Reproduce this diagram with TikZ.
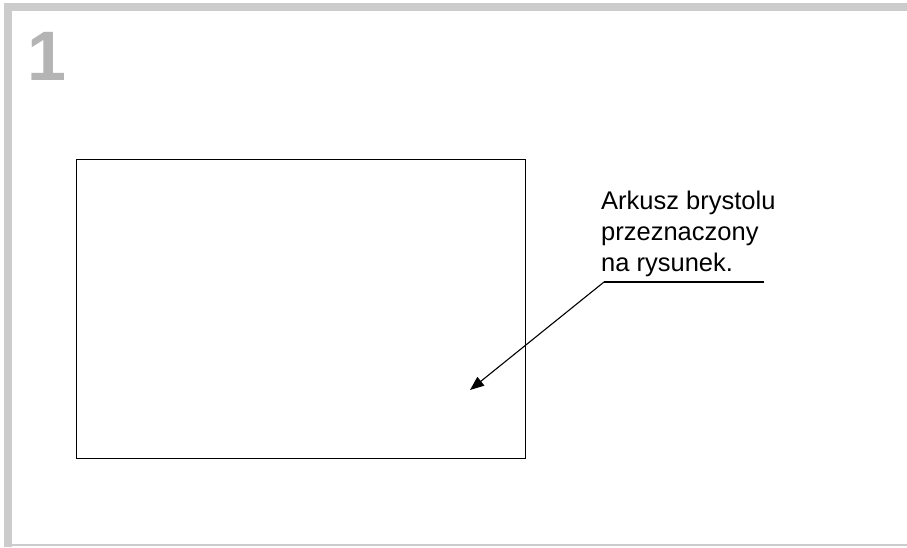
\documentclass[tikz,border=0pt]{standalone}
\usepackage{fontspec}
\setmainfont{Liberation Sans}
\usetikzlibrary{arrows.meta}
\definecolor{framegray}{HTML}{CCCCCC}
\definecolor{numgray}{HTML}{B4B4B4}
\begin{document}
\begin{tikzpicture}[x=1pt,y=-1pt,
  framebar/.style={fill=framegray,draw=none},
  sheet/.style={draw=black,line width=1pt},
  leader/.style={draw=black,line width=1.1pt},
  lbl/.style={font=\fontsize{25.5}{31}\selectfont,align=left,anchor=north west,inner sep=0pt}]
\useasboundingbox (0,0) rectangle (907,547);
\fill[white] (0,0) rectangle (907,547);
\fill[framebar] (4,3) rectangle (907,11);
\fill[framebar] (4,3) rectangle (12,547);
\fill[framebar] (4,544) rectangle (907,546);
\node[anchor=base west,inner sep=0pt,text=numgray,font=\fontsize{70}{70}\selectfont\bfseries] (num) at (27,80.5) {1};
\node[sheet,minimum width=449pt,minimum height=299pt,anchor=north west,inner sep=0pt] (sheet) at (76,159) {};
\node[lbl] (label) at (601,190.5) {Arkusz brystolu\\przeznaczony\\na rysunek.};
\coordinate (kneeR) at (764,282);
\coordinate (knee) at (604,282);
\coordinate (tip) at (470,390);
\draw[leader] (kneeR) -- (knee);
\draw[leader,-{Triangle[length=14pt,width=11pt]}] (knee) -- (tip);
\end{tikzpicture}
\end{document}
